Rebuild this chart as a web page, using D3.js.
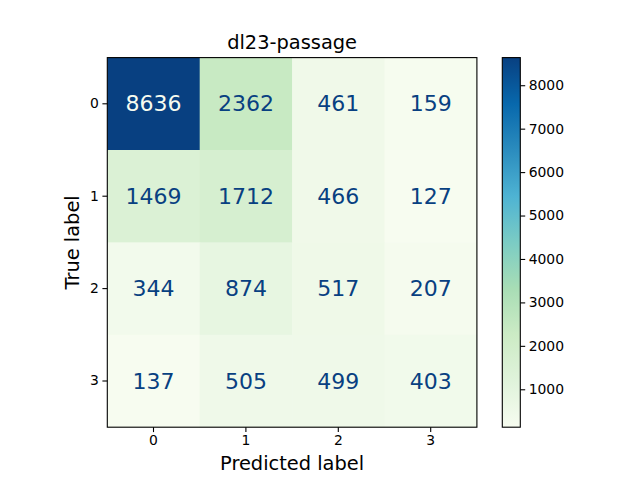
<!DOCTYPE html>
<html>
<head>
<meta charset="utf-8">
<script src="https://cdn.jsdelivr.net/npm/d3@7"></script>
<style>
  body { margin: 0; background: #fff; }
  text { font-family: "DejaVu Sans", sans-serif; }
</style>
</head>
<body>
<div id="chart"></div>
<script>
// confusion matrix data
const title = "dl23-passage";
const labels = ["0", "1", "2", "3"];
const matrix = [
  [8636, 2362, 461, 159],
  [1469, 1712, 466, 127],
  [344, 874, 517, 207],
  [137, 505, 499, 403]
];
const cbarTicks = [1000, 2000, 3000, 4000, 5000, 6000, 7000, 8000];
// matplotlib GnBu
const gnbu = ["#f7fcf0", "#e0f3db", "#ccebc5", "#a8ddb5", "#7bccc4", "#4eb3d3", "#2b8cbe", "#0868ac", "#084081"];

const width = 640, height = 480;
const plot = {left: 107.3, top: 57.6, size: 369.6};
const cbar = {left: 502.3, width: 18, top: 57.6, height: 369.6};

const flat = matrix.flat();
const vmin = d3.min(flat), vmax = d3.max(flat);
const interp = d3.piecewise(d3.interpolateRgb, gnbu);
const color = v => interp((v - vmin) / (vmax - vmin));
const thresh = (vmax + vmin) / 2;

const svg = d3.select("#chart").append("svg")
  .attr("width", width)
  .attr("height", height);

const x = d3.scaleBand().domain(labels).range([plot.left, plot.left + plot.size]);
const y = d3.scaleBand().domain(labels).range([plot.top, plot.top + plot.size]);

const cells = [];
matrix.forEach((row, i) => row.forEach((v, j) => cells.push({r: labels[i], c: labels[j], v: v})));

svg.append("g").selectAll("rect")
  .data(cells)
  .enter().append("rect")
  .attr("x", d => x(d.c))
  .attr("y", d => y(d.r))
  .attr("width", x.bandwidth() + 0.5)
  .attr("height", y.bandwidth() + 0.5)
  .attr("fill", d => color(d.v));

svg.append("g").selectAll("text")
  .data(cells)
  .enter().append("text")
  .attr("x", d => x(d.c) + x.bandwidth() / 2)
  .attr("y", d => y(d.r) + y.bandwidth() / 2)
  .attr("text-anchor", "middle")
  .attr("dominant-baseline", "central")
  .style("font-size", "22px")
  .attr("fill", d => d.v < thresh ? gnbu[8] : gnbu[0])
  .text(d => d.v);

// frame
svg.append("rect")
  .attr("x", plot.left).attr("y", plot.top)
  .attr("width", plot.size).attr("height", plot.size)
  .attr("fill", "none").attr("stroke", "#000").attr("stroke-width", 1.1);

// axes
const xAxis = svg.append("g")
  .attr("transform", `translate(0,${plot.top + plot.size})`)
  .call(d3.axisBottom(x).tickSize(4.9).tickPadding(3.5));
const yAxis = svg.append("g")
  .attr("transform", `translate(${plot.left},0)`)
  .call(d3.axisLeft(y).tickSize(4.9).tickPadding(3.5));
[xAxis, yAxis].forEach(a => {
  a.select(".domain").remove();
  a.selectAll("line").attr("stroke", "#000").attr("stroke-width", 1.1);
  a.selectAll("text").style("font-size", "13.9px").style("font-family", "DejaVu Sans").attr("fill", "#000");
});

svg.append("text")
  .attr("x", plot.left + plot.size / 2)
  .attr("y", 49)
  .attr("text-anchor", "middle")
  .style("font-size", "19.4px")
  .text(title);

svg.append("text")
  .attr("x", plot.left + plot.size / 2)
  .attr("y", 470)
  .attr("text-anchor", "middle")
  .style("font-size", "19.4px")
  .text("Predicted label");

svg.append("text")
  .attr("transform", `translate(79,${plot.top + plot.size / 2}) rotate(-90)`)
  .attr("text-anchor", "middle")
  .style("font-size", "19.4px")
  .text("True label");

// colorbar
const grad = svg.append("defs").append("linearGradient")
  .attr("id", "cb").attr("x1", 0).attr("y1", 1).attr("x2", 0).attr("y2", 0);
gnbu.forEach((c, i) => grad.append("stop")
  .attr("offset", i / (gnbu.length - 1)).attr("stop-color", c));

svg.append("rect")
  .attr("x", cbar.left).attr("y", cbar.top)
  .attr("width", cbar.width).attr("height", cbar.height)
  .attr("fill", "url(#cb)")
  .attr("stroke", "#000").attr("stroke-width", 1.1);

const cy = d3.scaleLinear().domain([vmin, vmax]).range([cbar.top + cbar.height, cbar.top]);
const cAxis = svg.append("g")
  .attr("transform", `translate(${cbar.left + cbar.width},0)`)
  .call(d3.axisRight(cy).tickValues(cbarTicks).tickSize(4.9).tickPadding(3.5).tickFormat(d3.format("d")));
cAxis.select(".domain").remove();
cAxis.selectAll("line").attr("stroke", "#000").attr("stroke-width", 1.1);
cAxis.selectAll("text").style("font-size", "13.9px").style("font-family", "DejaVu Sans").attr("fill", "#000");
</script>
</body>
</html>
